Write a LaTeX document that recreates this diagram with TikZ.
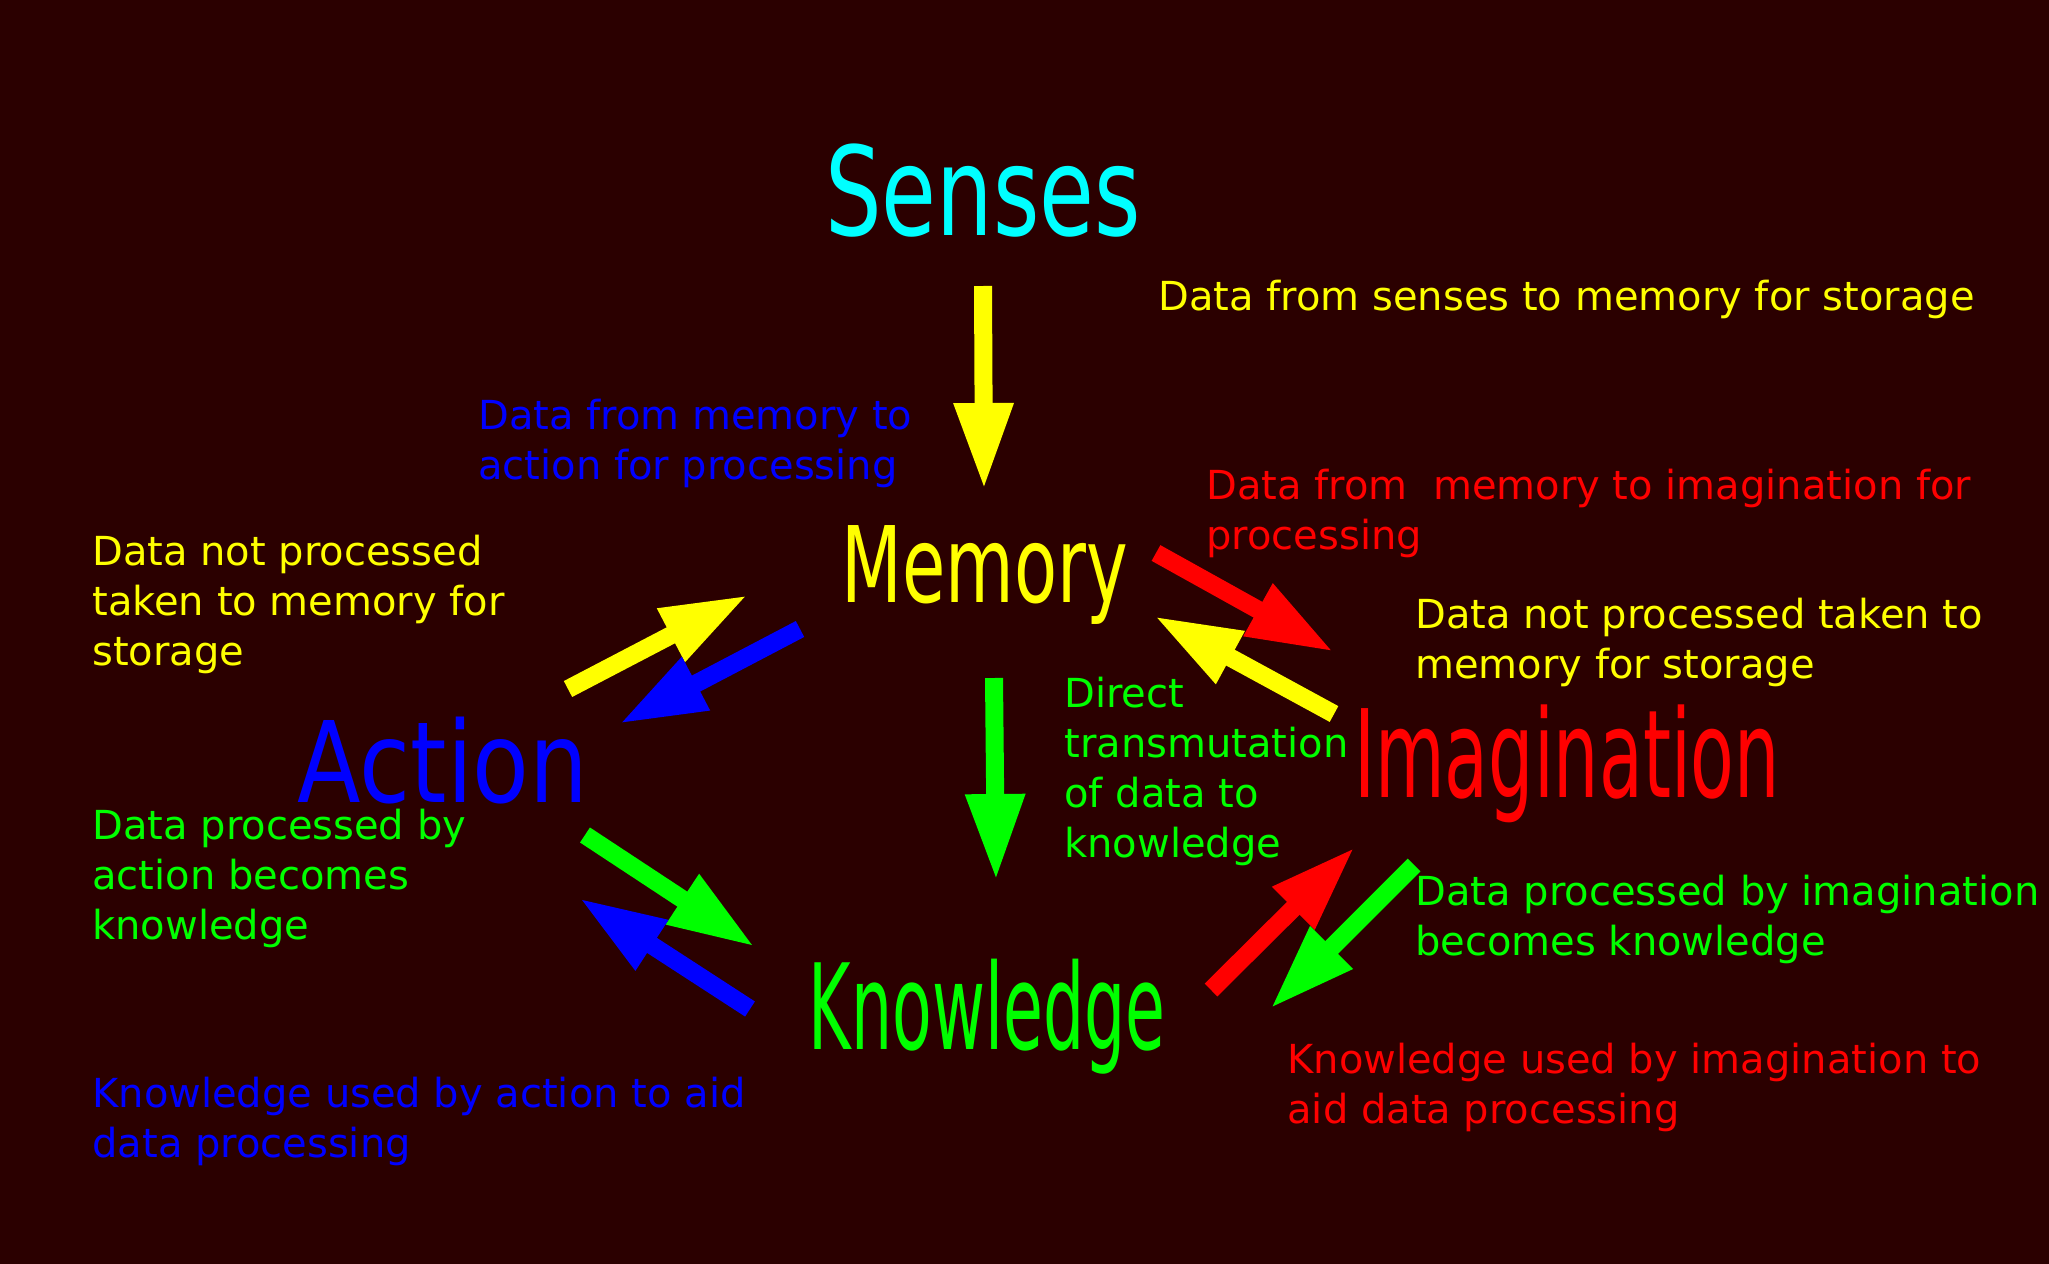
\documentclass[tikz,border=0pt]{standalone}
\usepackage{fontspec}
\setmainfont{DejaVu Sans}
\usetikzlibrary{arrows.meta}
\definecolor{bg}{RGB}{43,0,0}
\definecolor{cY}{RGB}{255,255,0}
\definecolor{cB}{RGB}{0,0,255}
\definecolor{cR}{RGB}{255,0,0}
\definecolor{cG}{RGB}{0,255,0}
\definecolor{cC}{RGB}{0,255,255}
\newcommand{\ttl}[3]{\scalebox{#2}[1]{\fontsize{#1}{#1}\selectfont #3}}
\begin{document}
\begin{tikzpicture}[x=0.5pt,y=-0.5pt,
  titlenode/.style={anchor=base, inner sep=0pt},
  note/.style={anchor=base west, inner sep=0pt, align=left,
     font=\fontsize{20pt}{25pt}\selectfont},
  bigarrow/.style={line width=9pt, line cap=butt,
     -{Triangle[length=43.5pt,width=27.5pt]}}]
\useasboundingbox (0,0) rectangle (2049,1263);
\fill[bg] (-20,-20) rectangle (2069,1283);

% titles
\node[titlenode, text=cC] (senses) at (983,235) {\ttl{61.75pt}{0.722}{Senses}};
\node[titlenode, text=cY] (memory) at (985,602) {\ttl{52.8pt}{0.667}{Memory}};
\node[titlenode, text=cB] (action) at (443,802) {\ttl{56.25pt}{0.825}{Action}};
\node[titlenode, text=cR] (imag) at (1567,797) {\ttl{61pt}{0.586}{Imagination}};
\node[titlenode, text=cG] (know) at (987,1049) {\ttl{59.5pt}{0.545}{Knowledge}};

% notes (anchor = baseline of last line)
\node[note, text=cY] (n1) at (1158,310) {Data from senses to memory for storage};
\node[note, text=cB] (n2) at (478,479) {Data from memory to\\action for processing};
\node[note, text=cR] (n3) at (1206,549) {Data from\ \ memory to imagination for\\processing};
\node[note, text=cY] (n4) at (92,665) {Data not processed\\taken to memory for\\storage};
\node[note, text=cY] (n5) at (1415,678) {Data not processed taken to\\memory for storage};
\node[note, text=cG] (n6) at (1064,857) {Direct\\transmutation\\of data to\\knowledge};
\node[note, text=cG] (n7) at (92,939) {Data processed by\\action becomes\\knowledge};
\node[note, text=cG] (n8) at (1415,955) {Data processed by imagination\\becomes knowledge};
\node[note, text=cB] (n9) at (92,1157) {Knowledge used by action to aid\\data processing};
\node[note, text=cR] (n10) at (1287,1123) {Knowledge used by imagination to\\aid data processing};

% arrow end points
\coordinate (sm1) at (983,286);  \coordinate (sm2) at (984,490);
\coordinate (mk1) at (994,678);  \coordinate (mk2) at (996,881);
\coordinate (am1) at (568,689);  \coordinate (am2) at (748,595);
\coordinate (ma1) at (800,629);  \coordinate (ma2) at (619,724);
\coordinate (ak1) at (585,835);  \coordinate (ak2) at (755,947);
\coordinate (ka1) at (750,1009); \coordinate (ka2) at (579,898);
\coordinate (mi1) at (1156,553); \coordinate (mi2) at (1334,652);
\coordinate (im1) at (1334,714); \coordinate (im2) at (1154,616);
\coordinate (ki1) at (1211,990); \coordinate (ki2) at (1355,847);
\coordinate (ik1) at (1414,865); \coordinate (ik2) at (1270,1009);

\draw[bigarrow, cY] (sm1) -- (sm2);
\draw[bigarrow, cG] (mk1) -- (mk2);
\draw[bigarrow, cY] (am1) -- (am2);
\draw[bigarrow, cB] (ma1) -- (ma2);
\draw[bigarrow, cG] (ak1) -- (ak2);
\draw[bigarrow, cB] (ka1) -- (ka2);
\draw[bigarrow, cR] (mi1) -- (mi2);
\draw[bigarrow, cY] (im1) -- (im2);
\draw[bigarrow, cR] (ki1) -- (ki2);
\draw[bigarrow, cG] (ik1) -- (ik2);
\end{tikzpicture}
\end{document}
